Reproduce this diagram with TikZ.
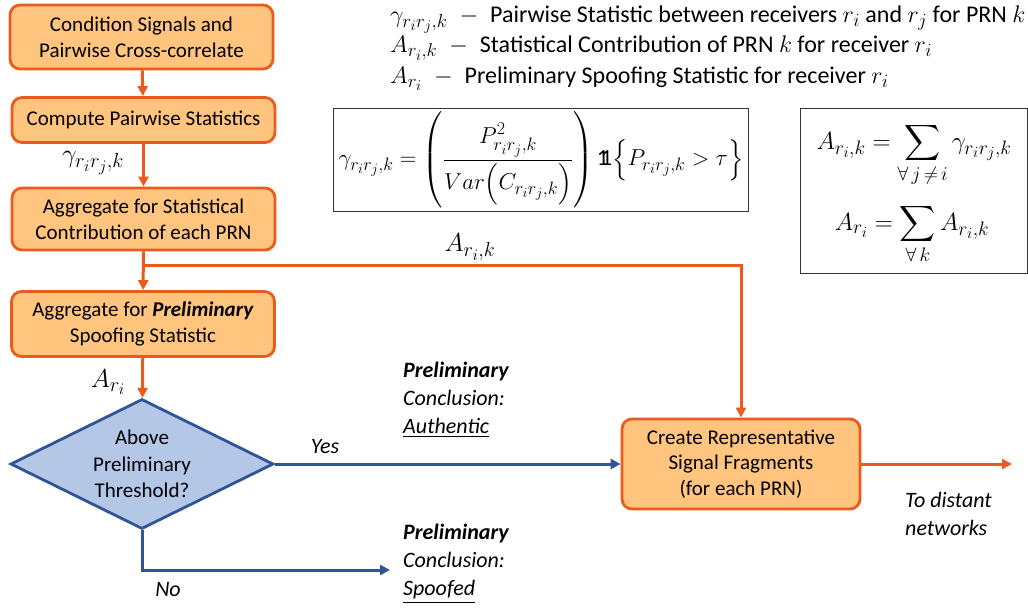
\documentclass[tikz,border=0pt]{standalone}
\usepackage{fix-cm}
\usepackage{amsmath,amssymb}
\usepackage{fontspec}
\setmainfont{Carlito}
\renewcommand{\defaultscriptratio}{.78}
\renewcommand{\defaultscriptscriptratio}{.62}
\usetikzlibrary{arrows.meta,shapes.geometric}
\definecolor{orfill}{HTML}{FFC47D}
\definecolor{orline}{HTML}{EC5B1E}
\definecolor{bfill}{HTML}{B4C7E7}
\definecolor{bline}{HTML}{2F5597}
\newcommand{\fs}[2]{\fontsize{#1}{#2}\selectfont}
% indicator symbol drawn as a doubled one
\newcommand{\indic}{\text{\rlap{1}\hspace{0.16em}1}}
\begin{document}
\begin{tikzpicture}[x=1pt,y=-1pt,
  proc/.style={draw=orline, fill=orfill, line width=2.8pt, rounded corners=10pt,
    minimum width=263pt, align=center, inner sep=2pt, font=\fs{21}{25.6}},
  dia/.style={diamond, draw=bline, fill=bfill, line width=2.8pt,
    minimum width=263pt, minimum height=130pt, inner sep=0pt},
  oarr/.style={draw=orline, line width=3pt, -{Triangle[length=10pt,width=10pt]}},
  barr/.style={draw=bline, line width=3pt, -{Triangle[length=10pt,width=10pt]}},
  lbl/.style={inner sep=0pt, font=\fs{22}{28}},
  mlbl/.style={inner sep=0pt, font=\fs{26}{28}},
  lgd/.style={inner sep=0pt, anchor=west, font=\fs{24}{28}},
  fbox/.style={draw=black!80, line width=0.9pt, fill=white}
]
\useasboundingbox (0,0) rectangle (1028,613);

% process boxes
\node[proc, minimum height=64pt] (b1) at (141.5,37) {Condition Signals and\\Pairwise Cross-correlate};
\node[proc, minimum height=45pt] (b2) at (143.5,120) {Compute Pairwise Statistics};
\node[proc, minimum height=62pt] (b3) at (143.5,219) {Aggregate for Statistical\\Contribution of each PRN};
\node[proc, minimum height=65pt] (b4) at (143,324) {Aggregate for \textbf{\textit{Preliminary}}\\Spoofing Statistic};
\node[proc, minimum width=238pt, minimum height=90pt] (b5) at (741,464) {Create Representative\\Signal Fragments\\(for each PRN)};

% decision
\node[dia] (d) at (142,464) {};
\node[align=center, inner sep=0pt, font=\fs{21}{26.5}] (dt) at (d) {Above\\Preliminary\\Threshold?};

% free ends
\coordinate (br) at (143,265);
\coordinate (noend) at (390,570);
\coordinate (outend) at (1012,464);

% orange flow
\draw[oarr] (b1) -- (b2);
\draw[oarr] (b2) -- (b3);
\draw[oarr] (b3) -- (b4);
\draw[oarr] (br) -| (b5);
\draw[oarr] (b4) -- (d);
\draw[oarr] (b5) -- (outend);

% blue flow
\draw[barr] (d.east) -- (b5.west);
\draw[barr] (d.south) |- (noend);

% math labels on connectors
\node[mlbl] (lg) at (93,163) {$\gamma_{r_ir_j,k}$};
\node[mlbl] (lak) at (470,247) {$A_{r_i,k}$};
\node[mlbl] (la) at (108,382) {$A_{r_i}$};

% branch labels
\node[lbl] (yes) at (325,447) {\textit{Yes}};
\node[lbl] (no) at (168,590) {\textit{No}};
\node[lbl, anchor=west, align=left] (c1) at (403,400) {\textbf{\textit{Preliminary}}\\\textit{Conclusion:}\\\underline{\textit{Authentic}}};
\node[lbl, anchor=west, align=left] (c2) at (403,564) {\textbf{\textit{Preliminary}}\\\textit{Conclusion:}\\\underline{\textit{Spoofed}}};
\node[lbl, anchor=west, align=left] (dist) at (905,514) {\textit{To distant}\\\textit{networks}};

% legend
\node[lgd] (l1) at (390,20) {$\gamma_{r_ir_j,k}$\enspace$-$\enspace Pairwise Statistic between receivers $r_i$ and $r_j$ for PRN $k$};
\node[lgd] (l2) at (390,48) {$A_{r_i,k}$\enspace$-$\enspace Statistical Contribution of PRN $k$ for receiver $r_i$};
\node[lgd] (l3) at (390,79) {$A_{r_i}$\enspace$-$\enspace Preliminary Spoofing Statistic for receiver $r_i$};

% formula boxes
\draw[fbox] (333,108) rectangle (748,211);
\node[inner sep=0pt, font=\fs{23}{28}] (f1) at (541,160) {$\gamma_{r_ir_j,k} = \left(\rule[-36pt]{0pt}{80pt}\dfrac{P^2_{r_ir_j,k}}{Var\Bigl(C_{r_ir_j,k}\Bigr)}\right)\indic\Bigl\{P_{r_ir_j,k} > \tau\Bigr\}$};
\draw[fbox] (800,108) rectangle (1027,273);
\node[inner sep=0pt, font=\fs{25}{28}] (f2) at (914,155) {$A_{r_i,k} = \displaystyle\sum_{\forall\, j\,\neq\, i}\gamma_{r_ir_j,k}$};
\node[inner sep=0pt, font=\fs{25}{28}] (f3) at (912,234) {$A_{r_i} = \displaystyle\sum_{\forall\, k}A_{r_i,k}$};
\end{tikzpicture}
\end{document}
